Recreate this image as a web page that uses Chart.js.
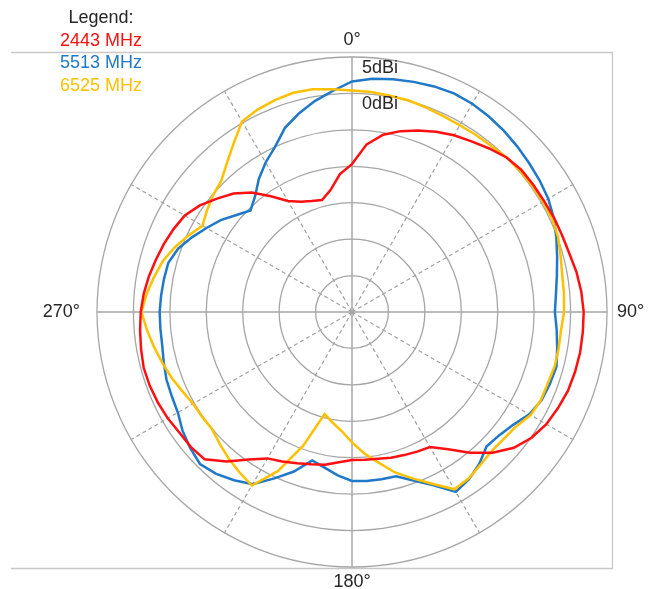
<!DOCTYPE html>
<html>
<head>
<meta charset="utf-8">
<script src="https://cdn.jsdelivr.net/npm/chart.js@4"></script>
<style>
  body { margin: 0; background: #fff; }
  #wrap { width: 659px; height: 589px; position: relative; }
</style>
</head>
<body>
<div id="wrap"><canvas id="myChart"></canvas></div>
<script>
const ctx = document.getElementById('myChart');

// measurement angles, every 5 degrees, clockwise from 0
const angles = [];
for (let a = 0; a < 360; a += 5) angles.push(a);

const freqLabels = ['2443 MHz', '5513 MHz', '6525 MHz'];
const freqColors = ['#ff1010', '#1f78c8', '#ffc000'];

// gain in dBi at each angle
const gain2443 = [
  -9.7, -6.9, -5.3, -4.3, -3.5, -2.7, -2.0, -1.4, -0.7, 0.0, 0.35, 0.4,
  0.45, 0.6, 0.7, 0.9, 1.3, 1.6, 1.8, 1.8, 1.8, 1.7, 1.55, 1.2,
  0.8, 0.1, -1.0, -2.7, -4.8, -7.0, -8.6, -8.85, -9.1, -9.3, -9.55, -9.65,
  -9.7, -9.3, -8.7, -8.35, -7.9, -7.35, -6.8, -5.3, -3.2, -1.4, -1.15, -1.1,
  -0.8, -0.6, -0.45, -0.4, -0.6, -0.8, -1.0, -1.3, -1.7, -2.15, -2.55, -3.0,
  -3.5, -4.5, -5.8, -7.0, -8.6, -10.6, -12.4, -13.3, -13.8, -14.1, -13.0, -11.0
];
const gain5513 = [
  1.65, 2.15, 2.45, 2.7, 2.95, 3.1, 3.0, 2.75, 2.45, 2.1, 1.75, 1.45,
  1.1, 0.55, -0.15, -0.85, -1.45, -1.9, -2.15, -1.8, -1.4, -0.95, -1.1, -1.3,
  -1.9, -3.0, -3.65, -3.9, -2.8, -2.0, -1.5, -3.8, -5.4, -6.65, -6.7, -6.7,
  -6.8, -7.5, -8.3, -8.9, -6.7, -4.8, -2.7, -1.8, -1.0, -0.5, -1.0, -1.6,
  -2.4, -2.7, -2.9, -3.25, -3.55, -3.6, -3.6, -3.7, -3.8, -3.9, -4.6, -5.75,
  -6.95, -8.0, -9.3, -10.3, -9.3, -7.7, -6.3, -5.0, -3.1, -1.8, -0.6, 0.45
];
const gain6525 = [
  0.4, 0.3, 0.15, 0.05, -0.15, -0.35, -0.4, -0.35, -0.25, 0.0, 0.1, 0.2,
  0.25, 0.3, 0.1, -0.35, -0.7, -0.8, -0.9, -1.2, -1.2, -1.2, -1.4, -1.4,
  -1.7, -2.55, -2.85, -2.95, -2.6, -2.1, -1.9, -4.0, -5.7, -7.2, -9.0, -10.5,
  -12.1, -13.6, -14.6, -15.5, -10.5, -5.9, -2.5, -3.1, -3.7, -4.35, -4.95, -4.9,
  -4.8, -4.3, -3.65, -3.05, -2.4, -1.75, -1.1, -1.7, -2.4, -3.1, -4.1, -5.2,
  -6.3, -5.7, -5.1, -4.6, -3.3, -1.7, 0.2, 0.65, 0.95, 1.15, 1.05, 0.7
];

const axisLabels = ['0°', '90°', '180°', '270°'];
const ringLabels = [5, 0];
const gainMin = -30, gainMax = 5, gainStep = 5;

const FONT = "Arial, 'Liberation Sans', sans-serif";

const decor = {
  id: 'decor',
  beforeDraw(chart) {
    const c = chart.ctx;
    c.save();
    c.strokeStyle = '#c8c8c8';
    c.lineWidth = 1.3;
    c.beginPath();
    c.moveTo(11, 52.5); c.lineTo(612.5, 52.5);
    c.lineTo(612.5, 568.5); c.lineTo(11, 568.5);
    c.stroke();
    c.restore();
  },
  afterDraw(chart) {
    const c = chart.ctx;
    const s = chart.scales.r;
    c.save();
    c.font = '18px ' + FONT;
    c.fillStyle = '#262626';

    // angle labels at 0, 90, 180, 270
    const idx = [0, 18, 36, 54];
    const dist = [272, 265, 270, 272];
    const align = ['center', 'left', 'center', 'right'];
    idx.forEach((i, k) => {
      const p = s.getPointPosition(i, dist[k]);
      c.textAlign = align[k];
      c.textBaseline = 'middle';
      c.fillText(axisLabels[k], p.x, p.y);
    });

    // ring labels
    c.textAlign = 'left';
    ringLabels.forEach(v => {
      const y = s.yCenter - s.getDistanceFromCenterForValue(v);
      c.fillText(v + 'dBi', s.xCenter + 10, y + 11);
    });

    // legend
    c.textAlign = 'center';
    c.fillText('Legend:', 101, 18);
    chart.data.datasets.forEach((ds, k) => {
      c.fillStyle = ds.borderColor;
      c.fillText(ds.label, 101, 41 + k * 22.5);
    });
    c.restore();
  }
};

new Chart(ctx, {
  type: 'radar',
  data: {
    labels: angles,
    datasets: [
      { label: freqLabels[0], data: gain2443, borderColor: freqColors[0], order: 0 },
      { label: freqLabels[1], data: gain5513, borderColor: freqColors[1], order: 2 },
      { label: freqLabels[2], data: gain6525, borderColor: freqColors[2], order: 1 }
    ]
  },
  options: {
    responsive: true,
    maintainAspectRatio: false,
    animation: false,
    layout: { padding: { left: 97, right: 52, top: 57, bottom: 22 } },
    elements: {
      line: { borderWidth: 2.5, tension: 0, fill: false },
      point: { radius: 0, hoverRadius: 0 }
    },
    plugins: {
      legend: { display: false },
      tooltip: { enabled: false }
    },
    scales: {
      r: {
        min: gainMin,
        max: gainMax,
        ticks: { stepSize: gainStep, display: false },
        pointLabels: { display: false },
        grid: { circular: true, color: '#a6a6a6', lineWidth: 1.3 },
        angleLines: {
          color: ctx => (ctx.index % 18 === 0) ? '#a6a6a6' : '#a0a0a0',
          lineWidth: ctx => (ctx.index % 18 === 0) ? 1.5 : (ctx.index % 6 === 0 ? 1.2 : 0),
          borderDash: ctx => (ctx.index % 18 === 0) ? [] : [4, 3]
        }
      }
    }
  },
  plugins: [decor]
});
</script>
</body>
</html>
